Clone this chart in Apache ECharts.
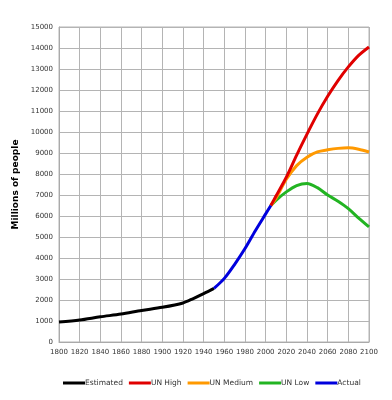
<!DOCTYPE html>
<html>
<head>
<meta charset="utf-8">
<script src="https://cdn.jsdelivr.net/npm/echarts@6/dist/echarts.min.js"></script>
<style>html,body{margin:0;padding:0;background:#fff}#c{width:392px;height:400px}</style>
</head>
<body>
<div id="c"></div>
<script>
const estYears = [1800,1820,1840,1860,1880,1900,1920,1930,1940,1950];
const estValues = [950,1050,1200,1330,1500,1650,1860,2070,2300,2550];
const actualYears = [1950,1960,1970,1980,1990,2000,2005];
const actualValues = [2550,3030,3700,4450,5300,6100,6500];
const projYears = [2005,2010,2020,2030,2040,2050,2060,2070,2080,2090,2100];
const unHigh = [6500,6950,7850,8900,9900,10850,11700,12450,13100,13650,14050];
const unMedium = [6500,6850,7750,8400,8800,9050,9150,9220,9250,9180,9050];
const unLow = [6500,6750,7150,7450,7550,7350,7000,6700,6350,5900,5480];

const pairs = (xs, ys) => xs.map((x, i) => [x, ys[i]]);
const font = 'DejaVu Sans';
function line(name, color, data, z) {
  return {name, type:'line', data, smooth:0.3, showSymbol:false, symbol:'none', z,
    lineStyle:{color, width:3}, itemStyle:{color}};
}
const labelCommon = {fontFamily:font, fontSize:7, color:'#333', margin:6,
  showMinLabel:true, showMaxLabel:true, hideOverlap:false, formatter:v => String(v)};
const chart = echarts.init(document.getElementById('c'), null, {renderer:'canvas'});
chart.setOption({
  animation:false,
  backgroundColor:'#fff',
  grid:{left:59, right:23, top:27, bottom:58, containLabel:false, show:false},
  legend:{
    top:379, left:63, itemWidth:22, itemHeight:3, itemGap:6, icon:'rect', padding:0,
    textStyle:{fontFamily:font, fontSize:7.5, color:'#333', padding:[0,0,0,-5]},
    data:['Estimated','UN High','UN Medium','UN Low','Actual']
  },
  xAxis:{type:'value', min:1800, max:2100, interval:20,
    axisLine:{show:true, lineStyle:{color:'#aaa'}}, axisTick:{show:false},
    axisLabel:Object.assign({}, labelCommon, {margin:7}),
    splitLine:{show:true, lineStyle:{color:'#b4b4b4', width:1}}},
  yAxis:{type:'value', min:0, max:15000, interval:1000,
    name:'Millions of people', nameLocation:'middle', nameGap:37, nameRotate:90,
    nameTextStyle:{fontFamily:font, fontSize:9, fontWeight:'bold', color:'#000'},
    axisLine:{show:true, lineStyle:{color:'#aaa'}}, axisTick:{show:false},
    axisLabel:labelCommon,
    splitLine:{show:true, lineStyle:{color:'#b4b4b4', width:1}}},
  series:[
    line('UN Low', '#22b422', pairs(projYears, unLow), 2),
    line('UN Medium', '#ff9900', pairs(projYears, unMedium), 3),
    line('UN High', '#e00000', pairs(projYears, unHigh), 4),
    line('Estimated', '#000000', pairs(estYears, estValues), 5),
    line('Actual', '#0000dd', pairs(actualYears, actualValues), 6)
  ]
});
chart.setOption({graphic:[{type:'rect', shape:{x:59, y:27, width:310, height:315},
  style:{fill:'none', stroke:'#b4b4b4', lineWidth:1}, z:0, silent:true}]});
</script>
</body>
</html>
